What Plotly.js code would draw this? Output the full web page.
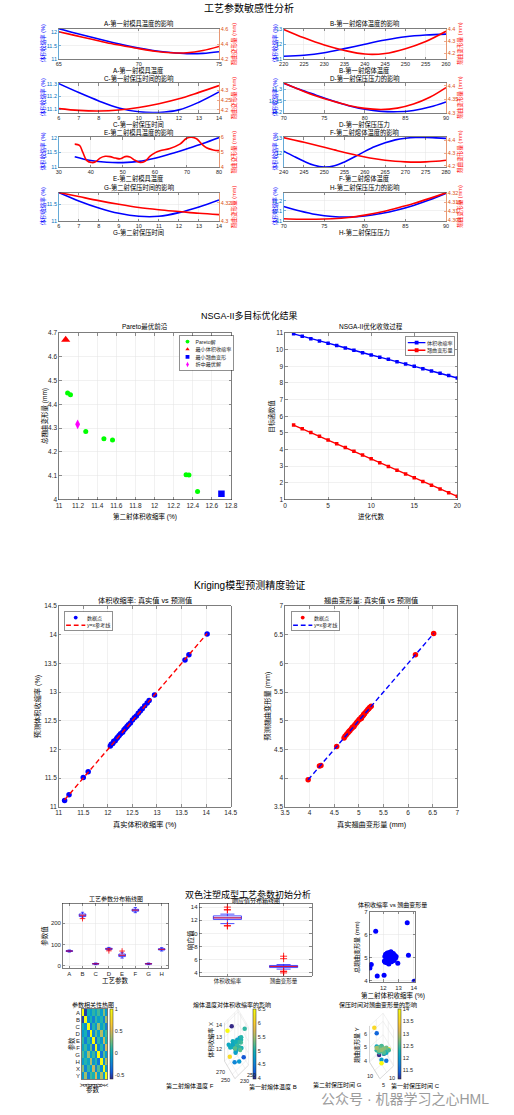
<!DOCTYPE html>
<html>
<head>
<meta charset="utf-8">
<script src="https://cdn.plot.ly/plotly-3.0.1.min.js"></script>
<style>
  html, body { margin: 0; padding: 0; background: #ffffff; }
  #chart { width: 514px; height: 1115px; }
</style>
</head>
<body>
<div id="chart"></div>
<script>
// ---------------- sensitivity curves (one process parameter varied at a time) ----------------
const moldT1 = [65, 66, 67, 68, 69, 70, 71, 72, 73, 74, 75];
const moldT1Shrink = [12.13, 11.97, 11.82, 11.67, 11.53, 11.41, 11.31, 11.24, 11.20, 11.21, 11.27];
const moldT1Warp = [4.57, 4.52, 4.47, 4.42, 4.38, 4.34, 4.305, 4.285, 4.285, 4.315, 4.37];

const meltT1 = [220, 225, 230, 235, 240, 245, 250, 255, 260];
const meltT1Shrink = [11.19, 11.25, 11.42, 11.70, 12.00, 12.28, 12.50, 12.62, 12.68];
const meltT1Warp = [4.40, 4.33, 4.27, 4.225, 4.195, 4.20, 4.24, 4.30, 4.385];

const holdT1 = [6, 7, 8, 9, 10, 11, 12, 13, 14];
const holdT1Shrink = [11.30, 11.23, 11.165, 11.11, 11.08, 11.075, 11.095, 11.155, 11.235];
const holdT1Warp = [4.207, 4.198, 4.195, 4.20, 4.213, 4.232, 4.257, 4.29, 4.325];

const holdP1 = [70, 72, 74, 76, 78, 80, 82, 84, 86, 88, 90];
const holdP1Shrink = [11.328, 11.30, 11.275, 11.25, 11.228, 11.212, 11.203, 11.201, 11.207, 11.222, 11.245];
const holdP1Warp = [4.41, 4.385, 4.362, 4.343, 4.327, 4.316, 4.312, 4.317, 4.332, 4.357, 4.393];

const moldT2 = [35, 40, 45, 50, 55, 60, 65, 70, 75, 80];
const moldT2Shrink = [11.35, 11.22, 11.16, 11.15, 11.19, 11.30, 11.45, 11.62, 11.80, 12.00];
const moldT2WarpX = [35, 36.5, 37.5, 38.7, 40.3, 41.5, 42.9, 44.5, 46, 47.7, 49.2, 50.7, 52.2, 53.8, 55.4, 56.9, 58.5, 60, 61.6, 64.7, 67.8, 69.9, 71.4, 73, 74.5, 76.1, 78.2, 80];
const moldT2Warp = [5.54, 5.45, 5.0, 4.45, 4.3, 4.35, 4.6, 4.72, 4.7, 4.6, 4.55, 4.7, 4.68, 4.45, 4.3, 4.38, 4.73, 4.95, 5.09, 5.25, 5.54, 5.93, 6.0, 5.9, 5.57, 5.3, 5.15, 5.1];

const meltT2 = [240, 242.5, 245, 247.5, 250, 252.5, 255, 257.5, 260, 262.5, 265, 267.5, 270, 272.5, 275, 277.5, 280];
const meltT2Shrink = [12.10, 11.75, 11.42, 11.15, 11.04, 11.12, 11.38, 11.72, 12.08, 12.40, 12.65, 12.85, 12.96, 13.01, 13.01, 12.98, 12.95];
const meltT2Warp = [4.42, 4.402, 4.384, 4.365, 4.345, 4.325, 4.305, 4.287, 4.27, 4.256, 4.245, 4.237, 4.232, 4.23, 4.232, 4.237, 4.245];

const holdT2 = [6, 7, 8, 9, 10, 11, 12, 13, 14];
const holdT2Shrink = [11.85, 11.60, 11.39, 11.23, 11.14, 11.14, 11.25, 11.42, 11.63];
const holdT2Warp = [4.3315, 4.327, 4.3225, 4.3185, 4.315, 4.3125, 4.3105, 4.3085, 4.307];

const holdP2 = [70, 72, 74, 76, 78, 80, 82, 84, 86, 88, 90];
const holdP2Shrink = [11.145, 11.10, 11.065, 11.045, 11.04, 11.05, 11.075, 11.11, 11.155, 11.21, 11.275];
const holdP2Warp = [4.3058, 4.3055, 4.3055, 4.3058, 4.3065, 4.3078, 4.3095, 4.3118, 4.3143, 4.3172, 4.3203];

// ---------------- NSGA-II results ----------------
const paretoShrink = [11.09, 11.12, 11.28, 11.47, 11.56, 12.33, 12.36, 12.45];
const paretoWarp = [4.448, 4.440, 4.286, 4.255, 4.250, 4.104, 4.103, 4.034];
const bestShrinkPoint = [11.07, 4.672];
const bestWarpPoint = [12.70, 4.024];
const compromisePoint = [11.195, 4.316];

const generations = [1, 2, 3, 4, 5, 6, 7, 8, 9, 10, 11, 12, 13, 14, 15, 16, 17, 18, 19, 20];
const convShrink = [10.95, 10.80, 10.66, 10.52, 10.39, 10.25, 10.10, 9.96, 9.82, 9.68, 9.55, 9.42, 9.28, 9.14, 9.00, 8.86, 8.72, 8.58, 8.44, 8.30];
const convWarp = [5.47, 5.25, 5.02, 4.80, 4.57, 4.35, 4.12, 3.90, 3.67, 3.44, 3.21, 2.98, 2.76, 2.53, 2.30, 2.08, 1.86, 1.63, 1.41, 1.19];

// ---------------- experiment samples (true vs Kriging prediction) ----------------
const shrinkTrue = [11.12, 11.21, 11.50, 11.60, 12.05, 13.57, 13.65, 14.02, 12.95, 12.07, 12.10, 12.12, 12.15, 12.18, 12.20, 12.23, 12.26, 12.30, 12.33, 12.36, 12.39, 12.42, 12.46, 12.50, 12.54, 12.58, 12.62, 12.66, 12.70, 12.75, 12.80, 12.84];
const shrinkPred = [11.11, 11.21, 11.51, 11.61, 12.06, 13.56, 13.65, 14.01, 12.95, 12.09, 12.10, 12.14, 12.15, 12.19, 12.21, 12.24, 12.27, 12.30, 12.34, 12.37, 12.40, 12.43, 12.46, 12.51, 12.55, 12.58, 12.63, 12.67, 12.71, 12.76, 12.81, 12.85];
const warpTrue = [4.55, 4.70, 6.15, 4.20, 4.23, 6.52, 5.10, 3.97, 4.75, 4.85, 5.05, 4.80, 5.15, 4.90, 5.00, 4.78, 5.20, 4.95, 5.08, 4.72, 5.22, 4.88, 5.02, 5.25, 4.82, 5.12, 4.92, 5.18, 4.87, 5.10, 4.97, 5.05];
const warpPred = [4.55, 4.70, 6.15, 4.21, 4.22, 6.52, 5.11, 3.97, 4.76, 4.86, 5.04, 4.81, 5.16, 4.90, 5.01, 4.79, 5.21, 4.96, 5.08, 4.73, 5.23, 4.89, 5.03, 5.25, 4.83, 5.13, 4.93, 5.19, 4.88, 5.11, 4.98, 5.06];
const sampleB = [236, 244, 228, 252, 240, 225, 258, 232, 248, 238, 242, 235, 246, 230, 250, 241, 237, 233, 245, 239, 243, 227, 255, 234, 247, 240, 236, 249, 231, 244, 238, 253];
const sampleF = [262, 255, 270, 248, 266, 275, 252, 268, 258, 260, 263, 257, 265, 271, 254, 259, 261, 267, 256, 264, 250, 273, 262, 258, 266, 260, 269, 255, 263, 257, 261, 259];
const sampleC = [9, 11, 8, 12, 10, 7, 13, 10, 9, 11, 10, 12, 8, 10, 11, 9, 10, 12, 9, 11, 10, 8, 13, 10, 11, 9, 10, 12, 9, 11, 10, 8];
const sampleG = [11, 9, 12, 8, 10, 13, 7, 10, 11, 9, 10, 8, 12, 10, 9, 11, 10, 8, 11, 9, 10, 12, 7, 10, 9, 11, 10, 8, 11, 9, 10, 12];

// ---------------- process parameter distribution (box statistics) ----------------
const paramLabels = ['A', 'B', 'C', 'D', 'E', 'F', 'G', 'H'];
const paramQ1 = [68, 232, 9, 78, 44, 257, 9, 75];
const paramMedian = [70, 238, 10, 80, 50, 262, 10, 78];
const paramQ3 = [72, 244, 11, 83, 56, 266, 11, 81];
const paramLowWhisker = [65, 225, 6, 74, 37, 250, 6, 70];
const paramHighWhisker = [75, 252, 14, 87, 64, 274, 14, 86];
const paramOutlierCat = ['B', 'D', 'E'];
const paramOutlierVal = [222, 71, 70];
const responseLabels = ['体积收缩率', '翘曲变形量'];

// ---------------- correlation matrix ----------------
const corrLabels = ['A', 'B', 'C', 'D', 'E', 'F', 'G', 'H', 'X', 'Y'];
const corrMatrix = [
  [1.00, -0.52, 0.05, -0.12, 0.10, -0.05, 0.15, -0.10, 0.30, -0.12],
  [-0.52, 1.00, -0.18, 0.05, -0.25, 0.12, -0.08, 0.08, -0.22, 0.35],
  [0.05, -0.18, 1.00, -0.30, 0.08, -0.15, 0.35, -0.05, 0.12, -0.25],
  [-0.12, 0.05, -0.30, 1.00, -0.20, 0.22, -0.10, 0.40, -0.08, 0.15],
  [0.10, -0.25, 0.08, -0.20, 1.00, -0.35, 0.12, -0.15, 0.45, 0.05],
  [-0.05, 0.12, -0.15, 0.22, -0.35, 1.00, -0.22, 0.10, -0.25, 0.50],
  [0.15, -0.08, 0.35, -0.10, 0.12, -0.22, 1.00, -0.30, 0.20, -0.10],
  [-0.10, 0.08, -0.05, 0.40, -0.15, 0.10, -0.30, 1.00, -0.18, 0.38],
  [0.30, -0.22, 0.12, -0.08, 0.45, -0.25, 0.20, -0.18, 1.00, -0.12],
  [-0.12, 0.35, -0.25, 0.15, 0.05, 0.50, -0.10, 0.38, -0.12, 1.00]
];

// ====================================================================
const W = 514, H = 1115;
const FONT = '"Liberation Sans", Arial, "Noto Sans CJK SC", sans-serif';
const AX = '#262626', GRID = '#e4e4e4';
const LEFT = '#0072BD', RIGHT = '#D95319';
const PARULA = [
  [0.0, '#352a87'], [0.1, '#0f5cdd'], [0.2, '#127dd8'], [0.3, '#079ccf'], [0.4, '#15b1b4'],
  [0.5, '#59bd8c'], [0.6, '#a5be6b'], [0.7, '#e1b952'], [0.8, '#fcce2e'], [0.9, '#f5e51f'], [1.0, '#f9fb0e']
];

const fx = p => p / W;
const fy = p => 1 - p / H;

const layout = {
  width: W, height: H,
  margin: { l: 0, r: 0, t: 0, b: 0 },
  paper_bgcolor: '#ffffff', plot_bgcolor: 'rgba(0,0,0,0)',
  font: { family: FONT, size: 6, color: AX },
  hovermode: false, showlegend: true,
  annotations: []
};
const traces = [];

let nx = 0, ny = 0;
function axisKey(id) { return id[0] + 'axis' + id.slice(1); }
function newAxis(letter, opts) {
  let id;
  if (letter === 'x') { nx++; id = nx === 1 ? 'x' : 'x' + nx; }
  else { ny++; id = ny === 1 ? 'y' : 'y' + ny; }
  layout[axisKey(id)] = opts;
  return id;
}
function axis2d(extra) {
  return Object.assign({
    showline: true, linecolor: AX, linewidth: 0.6, mirror: 'ticks',
    ticks: 'inside', ticklen: 2.5, tickwidth: 0.5, tickcolor: AX,
    showgrid: true, gridcolor: GRID, gridwidth: 0.5, zeroline: false,
    tickfont: { size: 6.5, color: AX }, fixedrange: true
  }, extra);
}
function label(str, px, py, size, opts) {
  layout.annotations.push(Object.assign({
    text: str, x: fx(px), y: fy(py), xref: 'paper', yref: 'paper', showarrow: false,
    xanchor: 'center', yanchor: 'middle', font: { size: size, color: '#000' }
  }, opts || {}));
}
const tt = v => v.map(String);

// ---------------- section 1 : sensitivity analysis ----------------
label('工艺参数敏感性分析', 249, 7.5, 10);
const cols = [[58.7, 219], [283.7, 446]];
const rows = [[28.7, 59], [83, 112.7], [137, 167], [192.5, 221]];
const yLabelX = [[42.5, 233.5], [274.5, 460]];
const sens = [
  { t: 'A-第一射模具温度的影响', xl: 'A-第一射模具温度', x: moldT1, s: moldT1Shrink, wx: moldT1, w: moldT1Warp,
    xr: [65, 75], xt: [65, 70, 75], yl: [11, 12.13], ylt: [11, 11.5, 12], yr: [4.2, 4.61], yrt: [4.2, 4.4, 4.6] },
  { t: 'B-第一射熔体温度的影响', xl: 'B-第一射熔体温度', x: meltT1, s: meltT1Shrink, wx: meltT1, w: meltT1Warp,
    xr: [220, 260], xt: [220, 225, 230, 235, 240, 245, 250, 255, 260], yl: [11, 13.05], ylt: [11, 12, 13], yr: [4.154, 4.406], yrt: [4.2, 4.3, 4.4] },
  { t: 'C-第一射保压时间的影响', xl: 'C-第一射保压时间', x: holdT1, s: holdT1Shrink, wx: holdT1, w: holdT1Warp,
    xr: [6, 14], xt: [6, 7, 8, 9, 10, 11, 12, 13, 14], yl: [11.073, 11.305], ylt: [11.1, 11.2, 11.3], yr: [4.186, 4.338], yrt: [4.2, 4.25, 4.3] },
  { t: 'D-第一射保压压力的影响', xl: 'D-第一射保压压力', x: holdP1, s: holdP1Shrink, wx: holdP1, w: holdP1Warp,
    xr: [70, 90], xt: [70, 75, 80, 85, 90], yl: [11.197, 11.329], ylt: [11.2, 11.25, 11.3], yr: [4.3, 4.41], yrt: [4.3, 4.35, 4.4] },
  { t: 'E-第二射模具温度的影响', xl: 'E-第二射模具温度', x: moldT2, s: moldT2Shrink, wx: moldT2WarpX, w: moldT2Warp,
    xr: [30, 80], xt: [30, 40, 50, 60, 70, 80], yl: [11, 12.02], ylt: [11, 11.5, 12], yr: [4, 6.02], yrt: [4, 5, 6] },
  { t: 'F-第二射熔体温度的影响', xl: 'F-第二射熔体温度', x: meltT2, s: meltT2Shrink, wx: meltT2, w: meltT2Warp,
    xr: [240, 280], xt: [240, 245, 250, 255, 260, 265, 270, 275, 280], yl: [11.04, 13.04], ylt: [12, 13], yr: [4.192, 4.425], yrt: [4.2, 4.3, 4.4] },
  { t: 'G-第二射保压时间的影响', xl: 'G-第二射保压时间', x: holdT2, s: holdT2Shrink, wx: holdT2, w: holdT2Warp,
    xr: [6, 14], xt: [6, 7, 8, 9, 10, 11, 12, 13, 14], yl: [11, 11.85], ylt: [11, 11.5], yr: [4.3, 4.3315], yrt: [4.3, 4.32] },
  { t: 'H-第二射保压压力的影响', xl: 'H-第二射保压压力', x: holdP2, s: holdP2Shrink, wx: holdP2, w: holdP2Warp,
    xr: [70, 90], xt: [70, 75, 80, 85, 90], yl: [11, 11.283], ylt: [11, 11.1, 11.2], yr: [4.3045, 4.3205], yrt: [4.305, 4.31, 4.315, 4.32] }
];
sens.forEach((p, i) => {
  const c = i % 2, r = Math.floor(i / 2);
  const [l, rr] = cols[c], [t, b] = rows[r];
  const small = { size: 5.5, color: AX };
  const xid = newAxis('x', axis2d({ domain: [fx(l), fx(rr)], range: p.xr, tickmode: 'array', tickvals: p.xt, ticktext: tt(p.xt), tickfont: small }));
  const ylid = newAxis('y', axis2d({ domain: [fy(b), fy(t)], range: p.yl, tickmode: 'array', tickvals: p.ylt, ticktext: tt(p.ylt),
    mirror: false, linecolor: LEFT, tickcolor: LEFT, tickfont: { size: 5.5, color: LEFT }, anchor: xid }));
  const yrid = newAxis('y', axis2d({ overlaying: ylid, side: 'right', range: p.yr, tickmode: 'array', tickvals: p.yrt, ticktext: tt(p.yrt),
    mirror: false, showgrid: false, linecolor: RIGHT, tickcolor: RIGHT, tickfont: { size: 5.5, color: RIGHT }, anchor: xid }));
  layout[axisKey(xid)].anchor = ylid;
  traces.push({ type: 'scatter', mode: 'lines', x: p.x, y: p.s, xaxis: xid, yaxis: ylid, showlegend: false,
    line: { color: '#0000ff', width: 1.6, shape: 'spline', smoothing: 1 } });
  traces.push({ type: 'scatter', mode: 'lines', x: p.wx, y: p.w, xaxis: xid, yaxis: yrid, showlegend: false,
    line: { color: '#ff0000', width: 1.6, shape: 'spline', smoothing: 1 } });
  const cx = (l + rr) / 2;
  label(p.t, cx, t - 4.8, 6.3);
  label(p.xl, cx, b + 11.5, 6.3);
  label('体积收缩率 (%)', yLabelX[c][0], (t + b) / 2, 5.6, { textangle: -90, font: { size: 5.6, color: '#0000ff' } });
  label('翘曲变形量 (mm)', yLabelX[c][1], (t + b) / 2, 5.6, { textangle: -90, font: { size: 5.6, color: '#ff0000' } });
});

// ---------------- section 2 : NSGA-II ----------------
label('NSGA-II多目标优化结果', 249, 315.7, 9);
{
  const xid = newAxis('x', axis2d({ domain: [fx(59), fx(231)], range: [11, 12.8], dtick: 0.2, tick0: 11 }));
  const yid = newAxis('y', axis2d({ domain: [fy(499.5), fy(333)], range: [4, 4.7], dtick: 0.1, tick0: 4, anchor: xid }));
  layout[axisKey(xid)].anchor = yid;
  traces.push({ type: 'scatter', mode: 'markers', name: 'Pareto解', x: paretoShrink, y: paretoWarp, xaxis: xid, yaxis: yid, legend: 'legend',
    marker: { color: '#00ff00', size: 5, symbol: 'circle' } });
  traces.push({ type: 'scatter', mode: 'markers', name: '最小体积收缩率', x: [bestShrinkPoint[0]], y: [bestShrinkPoint[1]], xaxis: xid, yaxis: yid, legend: 'legend',
    marker: { color: '#ff0000', size: 8, symbol: 'triangle-up' } });
  traces.push({ type: 'scatter', mode: 'markers', name: '最小翘曲变形', x: [bestWarpPoint[0]], y: [bestWarpPoint[1]], xaxis: xid, yaxis: yid, legend: 'legend',
    marker: { color: '#0000ff', size: 6.5, symbol: 'square' } });
  traces.push({ type: 'scatter', mode: 'markers', name: '折中最优解', x: [compromisePoint[0]], y: [compromisePoint[1]], xaxis: xid, yaxis: yid, legend: 'legend',
    marker: { color: '#ff00ff', size: 7, symbol: 'diamond-tall' } });
  label('Pareto最优前沿', 145, 326.5, 6.5);
  label('第二射体积收缩率 (%)', 145, 516, 6.5);
  label('总翘曲变形量 (mm)', 44, 416, 6.5, { textangle: -90 });
}
{
  const xid = newAxis('x', axis2d({ domain: [fx(285), fx(457.3)], range: [0, 20], dtick: 5, tick0: 0 }));
  const yid = newAxis('y', axis2d({ domain: [fy(499.5), fy(333)], range: [1, 11], dtick: 1, tick0: 1, anchor: xid }));
  layout[axisKey(xid)].anchor = yid;
  traces.push({ type: 'scatter', mode: 'lines+markers', name: '体积收缩率', x: generations, y: convShrink, xaxis: xid, yaxis: yid, legend: 'legend2',
    line: { color: '#0000ff', width: 1.4 }, marker: { color: '#0000ff', size: 3.5, symbol: 'square' } });
  traces.push({ type: 'scatter', mode: 'lines+markers', name: '翘曲变形量', x: generations, y: convWarp, xaxis: xid, yaxis: yid, legend: 'legend2',
    line: { color: '#ff0000', width: 1.4 }, marker: { color: '#ff0000', size: 3.5, symbol: 'square' } });
  label('NSGA-II优化收敛过程', 371, 326.5, 6.5);
  label('进化代数', 371, 516, 6.5);
  label('目标函数值', 270.7, 416, 6.5, { textangle: -90 });
}

// ---------------- section 3 : Kriging validation ----------------
label('Kriging模型预测精度验证', 249, 585, 10);
function lineFromData(v) { return [Math.min(...v), Math.max(...v)]; }
{
  const xid = newAxis('x', axis2d({ domain: [fx(58.7), fx(230.7)], range: [11, 14.5], dtick: 0.5, tick0: 11 }));
  const yid = newAxis('y', axis2d({ domain: [fy(806.7), fy(606)], range: [11, 14.5], dtick: 0.5, tick0: 11, anchor: xid }));
  layout[axisKey(xid)].anchor = yid;
  traces.push({ type: 'scatter', mode: 'markers', name: '数据点', x: shrinkTrue, y: shrinkPred, xaxis: xid, yaxis: yid, legend: 'legend3',
    marker: { color: '#0000ff', size: 5.5 } });
  const ref = lineFromData(shrinkTrue);
  traces.push({ type: 'scatter', mode: 'lines', name: 'y=x参考线', x: ref, y: ref, xaxis: xid, yaxis: yid, legend: 'legend3',
    line: { color: '#ff0000', width: 1.4, dash: '5px,3px' } });
  label('体积收缩率: 真实值 vs 预测值', 144.7, 600.5, 7.2);
  label('真实体积收缩率 (%)', 144.7, 824.5, 7.2);
  label('预测体积收缩率 (%)', 37.3, 706, 7.2, { textangle: -90 });
}
{
  const xid = newAxis('x', axis2d({ domain: [fx(285), fx(457.3)], range: [3.5, 7], dtick: 0.5, tick0: 3.5 }));
  const yid = newAxis('y', axis2d({ domain: [fy(806.7), fy(606)], range: [3.5, 7], dtick: 0.5, tick0: 3.5, anchor: xid }));
  layout[axisKey(xid)].anchor = yid;
  traces.push({ type: 'scatter', mode: 'markers', name: '数据点', x: warpTrue, y: warpPred, xaxis: xid, yaxis: yid, legend: 'legend4',
    marker: { color: '#ff0000', size: 5.5 } });
  const ref = lineFromData(warpTrue);
  traces.push({ type: 'scatter', mode: 'lines', name: 'y=x参考线', x: ref, y: ref, xaxis: xid, yaxis: yid, legend: 'legend4',
    line: { color: '#0000ff', width: 1.4, dash: '5px,3px' } });
  label('翘曲变形量: 真实值 vs 预测值', 371, 600.5, 7.2);
  label('真实翘曲变形量 (mm)', 371, 824.5, 7.2);
  label('预测翘曲变形量 (mm)', 266.7, 706, 7.2, { textangle: -90 });
}

// legends are laid out at a large size and scaled down after drawing
const LEG_SCALE = 0.32;
const legendBase = { xref: 'paper', yref: 'paper', x: 0, y: 1, xanchor: 'left', yanchor: 'top', bgcolor: '#ffffff',
  bordercolor: AX, borderwidth: 1.6, font: { size: 16, color: AX }, itemsizing: 'constant', tracegroupgap: 0,
  itemclick: false, itemdoubleclick: false };
layout.legend = Object.assign({}, legendBase, { itemwidth: 40 });
layout.legend2 = Object.assign({}, legendBase, { itemwidth: 55 });
layout.legend3 = Object.assign({}, legendBase, { itemwidth: 60 });
layout.legend4 = Object.assign({}, legendBase, { itemwidth: 60 });
const legendPlacement = { legend: [179, 335.7], legend2: [405.7, 336.7], legend3: [64, 611.7], legend4: [291, 611.7] };

// ---------------- section 4 : initial analysis ----------------
label('双色注塑成型工艺参数初始分析', 248.3, 894.5, 9);
function median(a) { const s = [...a].sort((p, q) => p - q); const n = s.length; return n % 2 ? s[(n - 1) / 2] : (s[n / 2 - 1] + s[n / 2]) / 2; }
function medianSegments(pos, meds, half) {
  const xs = [], ys = [];
  pos.forEach((p, i) => { xs.push(p - half, p + half, null); ys.push(meds[i], meds[i], null); });
  return { xs, ys };
}
// parameter box plot
{
  const pos = paramLabels.map((_, i) => i + 1);
  const xid = newAxis('x', axis2d({ domain: [fx(62.7), fx(168.3)], range: [0.5, 8.5], tickmode: 'array', tickvals: pos, ticktext: paramLabels, tickfont: { size: 6, color: AX } }));
  const yid = newAxis('y', axis2d({ domain: [fy(968.3), fy(903.3)], range: [-11, 294], tickmode: 'array', tickvals: [0, 100, 200], ticktext: ['0', '100', '200'], tickfont: { size: 6, color: AX }, anchor: xid }));
  layout[axisKey(xid)].anchor = yid;
  traces.push({ type: 'box', x: pos, q1: paramQ1, median: paramMedian, q3: paramQ3, lowerfence: paramLowWhisker, upperfence: paramHighWhisker,
    xaxis: xid, yaxis: yid, showlegend: false, boxpoints: false, width: 0.5, whiskerwidth: 0.5,
    line: { color: '#0000ff', width: 0.7 }, fillcolor: 'rgba(0,0,0,0)' });
  const seg = medianSegments(pos, paramMedian, 0.25);
  traces.push({ type: 'scatter', mode: 'lines', x: seg.xs, y: seg.ys, xaxis: xid, yaxis: yid, showlegend: false, line: { color: '#ff0000', width: 0.8 } });
  traces.push({ type: 'scatter', mode: 'markers', x: paramOutlierCat.map(c => paramLabels.indexOf(c) + 1), y: paramOutlierVal, xaxis: xid, yaxis: yid, showlegend: false,
    marker: { symbol: 'cross-thin', size: 4, line: { color: '#ff0000', width: 0.8 } } });
  label('工艺参数分布箱线图', 115.5, 899, 6);
  label('工艺参数', 115.5, 980.5, 6.5);
  label('参数值', 45, 935.8, 6.5, { textangle: -90 });
}
// response box plot
{
  const xid = newAxis('x', axis2d({ domain: [fx(199.3), fx(311.7)], range: [0.5, 2.5], tickmode: 'array', tickvals: [1, 2], ticktext: responseLabels, tickfont: { size: 5.5, color: AX } }));
  const yid = newAxis('y', axis2d({ domain: [fy(976), fy(903.3)], range: [3.5, 14.6], tickmode: 'array', tickvals: [4, 6, 8, 10, 12, 14], ticktext: ['4', '6', '8', '10', '12', '14'], tickfont: { size: 6, color: AX }, anchor: xid }));
  layout[axisKey(xid)].anchor = yid;
  [shrinkTrue, warpTrue].forEach((v, i) => {
    traces.push({ type: 'box', y: v, x0: i + 1, xaxis: xid, yaxis: yid, showlegend: false, boxpoints: 'outliers', width: 0.5, whiskerwidth: 0.5,
      line: { color: '#0000ff', width: 0.7 }, fillcolor: 'rgba(0,0,0,0)',
      marker: { symbol: 'cross-thin', size: 5, color: '#ff0000', line: { color: '#ff0000', width: 0.8 } } });
  });
  const seg = medianSegments([1, 2], [median(shrinkTrue), median(warpTrue)], 0.25);
  traces.push({ type: 'scatter', mode: 'lines', x: seg.xs, y: seg.ys, xaxis: xid, yaxis: yid, showlegend: false, line: { color: '#ff0000', width: 0.8 } });
  label('响应值分布箱线图', 255.5, 900.5, 6);
  label('响应值', 190, 940, 6.5, { textangle: -90 });
}
// shrinkage vs warpage scatter
{
  const xid = newAxis('x', axis2d({ domain: [fx(369.3), fx(415)], range: [11.08, 14.08], tickmode: 'array', tickvals: [12, 13, 14], ticktext: ['12', '13', '14'], tickfont: { size: 6, color: AX } }));
  const yid = newAxis('y', axis2d({ domain: [fy(981.7), fy(911.7)], range: [3.95, 7], tickmode: 'array', tickvals: [4, 5, 6, 7], ticktext: ['4', '5', '6', '7'], tickfont: { size: 6, color: AX }, anchor: xid }));
  layout[axisKey(xid)].anchor = yid;
  traces.push({ type: 'scatter', mode: 'markers', x: shrinkTrue, y: warpTrue, xaxis: xid, yaxis: yid, showlegend: false,
    marker: { color: '#0000ff', size: 5 } });
  label('体积收缩率 vs 翘曲变形量', 392, 905, 6);
  label('第二射体积收缩率 (%)', 393, 995, 6.5);
  label('总翘曲变形量 (mm)', 357, 947, 6, { textangle: -90 });
}
// correlation heatmap
{
  const xid = newAxis('x', axis2d({ domain: [fx(81.7), fx(107.3)], type: 'category', tickmode: 'array', tickvals: corrLabels, ticktext: corrLabels,
    showgrid: false, ticks: '', tickfont: { size: 5, color: AX }, mirror: true }));
  const yid = newAxis('y', axis2d({ domain: [fy(1079.3), fy(1009)], type: 'category', autorange: 'reversed', tickmode: 'array', tickvals: corrLabels, ticktext: corrLabels,
    showgrid: false, ticks: '', tickfont: { size: 6, color: AX }, anchor: xid, mirror: true }));
  layout[axisKey(xid)].anchor = yid;
  traces.push({ type: 'heatmap', x: corrLabels, y: corrLabels, z: corrMatrix, xaxis: xid, yaxis: yid, colorscale: PARULA, zmin: -0.59, zmax: 1,
    colorbar: { x: fx(110), xanchor: 'left', y: fy(1009), yanchor: 'top', len: 70 / H, lenmode: 'fraction', thickness: 2.5, thicknessmode: 'pixels',
      tickmode: 'array', tickvals: [-0.5, 0, 0.5, 1], ticktext: ['-0.5', '0', '0.5', '1'], ticks: '', tickfont: { size: 5.5, color: AX },
      outlinewidth: 0.5, outlinecolor: AX, xpad: 0, ypad: 0 } });
  label('参数相关性热图', 93, 1005, 6);
  label('参数', 93, 1089.5, 6.5);
  label('参数', 70.5, 1044, 6.5, { textangle: -90 });
}

// 3-D scatter panels, drawn as an orthographic projection (azimuth -37.5°, elevation 30°)
const VIEW = { az: -37.5, el: 30 };
function makeProjector(xr, yr, zr) {
  const a = VIEW.az * Math.PI / 180, e = VIEW.el * Math.PI / 180;
  const ca = Math.cos(a), sa = Math.sin(a), se = Math.sin(e), ce = Math.cos(e);
  const f = (x, y, z) => {
    const u = (x - xr[0]) / (xr[1] - xr[0]), v = (y - yr[0]) / (yr[1] - yr[0]), w = (z - zr[0]) / (zr[1] - zr[0]);
    return [ca * u + sa * v, -se * sa * u + se * ca * v + ce * w];
  };
  f.xspan = [sa, ca];
  f.yspan = [0, -se * sa + se * ca + ce];
  return f;
}
function pseudo3d(c) {
  const P = makeProjector(c.xr, c.yr, c.zr);
  const xid = newAxis('x', { domain: [fx(c.l), fx(c.r)], range: [P.xspan[0] - 0.03, P.xspan[1] + 0.03], visible: false, fixedrange: true });
  const yid = newAxis('y', { domain: [fy(c.b), fy(c.t)], range: [P.yspan[0] - 0.03, P.yspan[1] + 0.03], visible: false, fixedrange: true, anchor: xid });
  layout[axisKey(xid)].anchor = yid;
  const [x0, x1] = c.xr, [y0, y1] = c.yr, [z0, z1] = c.zr;
  const gx = [], gy = [];
  const seg = (p, q) => { const A = P(...p), B = P(...q); gx.push(A[0], B[0], null); gy.push(A[1], B[1], null); };
  c.xt.forEach(t => { seg([t, y0, z0], [t, y1, z0]); seg([t, y1, z0], [t, y1, z1]); });
  c.yt.forEach(t => { seg([x0, t, z0], [x1, t, z0]); seg([x1, t, z0], [x1, t, z1]); });
  c.zt.forEach(t => { seg([x1, y0, t], [x1, y1, t]); seg([x0, y1, t], [x1, y1, t]); });
  seg([x1, y0, z0], [x1, y0, z1]); seg([x1, y1, z0], [x1, y1, z1]);
  seg([x1, y0, z1], [x1, y1, z1]); seg([x0, y1, z1], [x1, y1, z1]);
  seg([x1, y0, z0], [x1, y1, z0]); seg([x0, y1, z0], [x1, y1, z0]);
  traces.push({ type: 'scatter', mode: 'lines', x: gx, y: gy, xaxis: xid, yaxis: yid, showlegend: false, line: { color: '#e2e2e2', width: 0.5 } });
  const ax = [], ay = [];
  const seg2 = (p, q) => { const A = P(...p), B = P(...q); ax.push(A[0], B[0], null); ay.push(A[1], B[1], null); };
  seg2([x0, y0, z0], [x1, y0, z0]); seg2([x0, y0, z0], [x0, y1, z0]); seg2([x0, y1, z0], [x0, y1, z1]);
  traces.push({ type: 'scatter', mode: 'lines', x: ax, y: ay, xaxis: xid, yaxis: yid, showlegend: false, line: { color: '#b8b8b8', width: 0.5 } });
  const pts = c.xs.map((x, i) => P(x, c.ys[i], c.zs[i]));
  traces.push({ type: 'scatter', mode: 'markers', x: pts.map(p => p[0]), y: pts.map(p => p[1]), xaxis: xid, yaxis: yid, showlegend: false,
    marker: { size: 4.5, color: c.color, colorscale: PARULA, showscale: true, colorbar: c.colorbar, line: { width: 0 } } });
  const tick = (t, p, xa, ya, xs, ys) => layout.annotations.push({ text: String(t), x: p[0], y: p[1], xref: xid, yref: yid, showarrow: false,
    xanchor: xa, yanchor: ya, xshift: xs, yshift: ys, font: { size: 5.5, color: AX } });
  c.zt.forEach(t => tick(t, P(x0, y1, t), 'right', 'middle', -1, 0));
  c.xt.forEach(t => tick(t, P(t, y0, z0), 'left', 'top', 0, -1));
  c.yt.forEach(t => tick(t, P(x0, t, z0), 'right', 'top', 0, -1));
}
const cbar = (px, vals) => ({ x: fx(px), xanchor: 'left', y: fy(1009), yanchor: 'top', len: 70 / H, lenmode: 'fraction', thickness: 3, thicknessmode: 'pixels',
  tickmode: 'array', tickvals: vals, ticktext: tt(vals), ticks: '', tickfont: { size: 5.5, color: AX }, outlinewidth: 0.5, outlinecolor: AX, xpad: 0, ypad: 0 });
pseudo3d({ l: 224, r: 249, t: 1008, b: 1080, xr: [220, 260], yr: [240, 280], zr: [11, 14.2], xt: [230, 250], yt: [250, 270], zt: [12, 13, 14],
  xs: sampleB, ys: sampleF, zs: shrinkTrue, color: warpTrue, colorbar: cbar(253, [4, 4.5, 5, 5.5, 6, 6.5]) });
pseudo3d({ l: 369, r: 394, t: 1012, b: 1080, xr: [5, 15], yr: [5, 15], zr: [3.9, 6.6], xt: [5, 10], yt: [10], zt: [4, 5, 6],
  xs: sampleC, ys: sampleG, zs: warpTrue, color: shrinkTrue, colorbar: cbar(398, [11.5, 12, 12.5, 13, 13.5, 14]) });
label('熔体温度对体积收缩率的影响', 231.7, 1005, 6);
label('体积收缩率 X', 210.7, 1040, 6, { textangle: -90 });
label('第二射熔体温度 F', 190, 1086, 6);
label('第一射熔体温度 B', 273, 1086.5, 6);
label('保压时间对翘曲变形量的影响', 378, 1005, 6);
label('翘曲变形量 Y', 357, 1045, 6, { textangle: -90 });
label('第二射保压时间 G', 337, 1085, 6);
label('第一射保压时间 C', 415, 1085.5, 6);

// account footer mark
label('公众号 · 机器学习之心HML', 405, 1098.5, 14, { font: { size: 14, color: '#9c9c9c' } });

Plotly.newPlot('chart', traces, layout, { staticPlot: true, displayModeBar: false }).then(gd => {
  Object.keys(legendPlacement).forEach(id => {
    const g = gd.querySelector('g.' + id);
    if (!g) return;
    const [px, py] = legendPlacement[id];
    g.setAttribute('transform', 'translate(' + px + ',' + py + ') scale(' + LEG_SCALE + ')');
  });
  gd.querySelectorAll('g.legend path.js-line, g.legend2 path.js-line, g.legend3 path.js-line, g.legend4 path.js-line').forEach(p => {
    p.style.strokeWidth = '4.5px';
  });
  gd.querySelectorAll('g.legend3 path.js-line, g.legend4 path.js-line').forEach(p => {
    p.style.strokeDasharray = '15px,9px';
  });
});
</script>
</body>
</html>
